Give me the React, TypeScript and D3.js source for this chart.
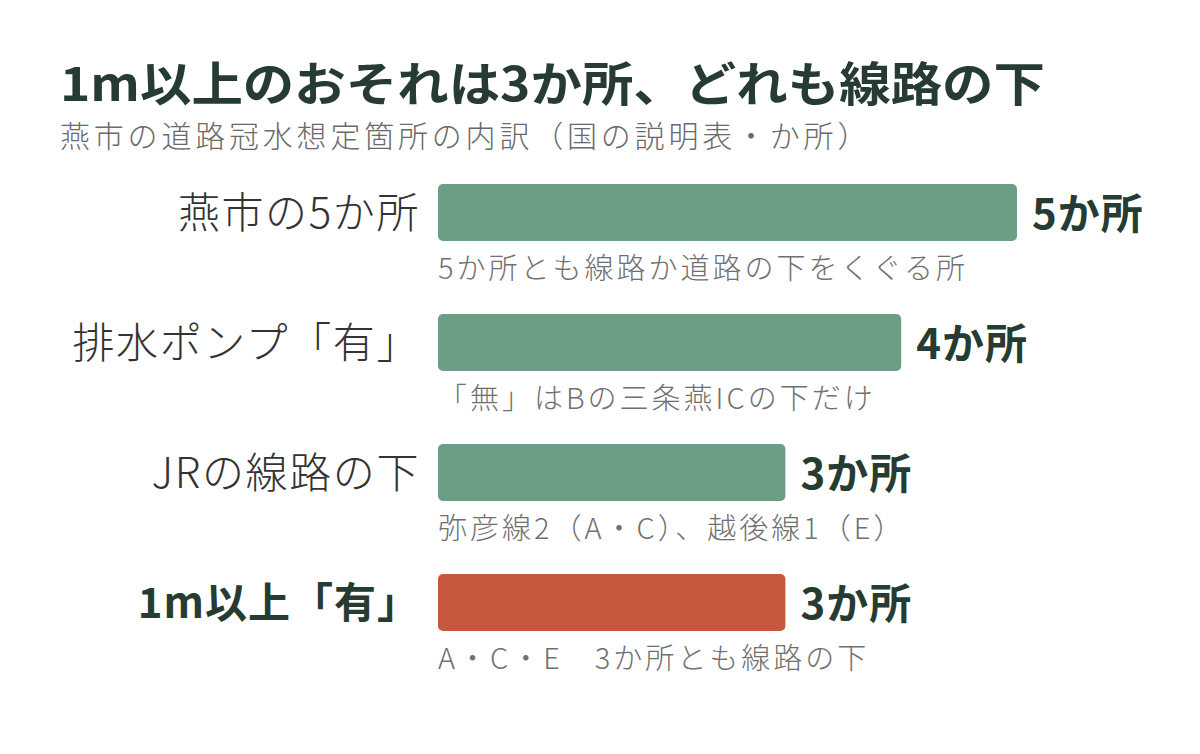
import React from "react";
import * as d3 from "d3";

const categories = ["燕市の5か所", "排水ポンプ「有」", "JRの線路の下", "1m以上「有」"];
const values = [5, 4, 3, 3];
const valueLabels = ["5か所", "4か所", "3か所", "3か所"];
const notes = [
  "5か所とも線路か道路の下をくぐる所",
  "「無」はBの三条燕ICの下だけ",
  "弥彦線2（A・C）、越後線1（E）",
  "A・C・E　3か所とも線路の下",
];
const highlight = [false, false, false, true];

const W = 1200;
const H = 754;
const FONT = "'Noto Sans CJK JP', 'Noto Sans', sans-serif";

export default function App() {
  const x = d3.scaleLinear().domain([0, 5]).range([438, 1017]);
  const y = d3
    .scaleBand<string>()
    .domain(categories)
    .range([184, 184 + 130 * 3 + 57])
    .paddingInner(73 / 130)
    .paddingOuter(0);
  const bw = y.bandwidth();
  const dark = "#263b31";
  return (
    <svg width={W} height={H} style={{ display: "block", position: "absolute", left: 0, top: 0 }} fontFamily={FONT}>
      <rect width={W} height={H} fill="#ffffff" />
      <text x={60} y={101} fontSize={47} fontWeight={700} fill={dark} textLength={985} lengthAdjust="spacingAndGlyphs">
        1m以上のおそれは3か所、どれも線路の下
      </text>
      <text x={60} y={147} fontSize={30} fontWeight={300} fill="#6a6a6a" letterSpacing={3.8}>
        燕市の道路冠水想定箇所の内訳（国の説明表・か所）
      </text>
      {categories.map((c, i) => {
        const yy = y(c) as number;
        return (
          <g key={c}>
            <rect
              x={x(0)}
              y={yy}
              width={x(values[i]) - x(0)}
              height={bw}
              rx={5}
              fill={highlight[i] ? "#c8573f" : "#6c9e86"}
            />
            <text
              x={420}
              y={yy + bw / 2 + 15}
              textAnchor="end"
              fontSize={42}
              letterSpacing={highlight[i] ? 1 : 1.6}
              fontWeight={highlight[i] ? 700 : 300}
              fill={highlight[i] ? dark : "#333333"}
            >
              {c}
            </text>
            <text x={x(values[i]) + 15} y={yy + bw / 2 + 16} fontSize={42} letterSpacing={1} fontWeight={700} fill={dark}>
              {valueLabels[i]}
            </text>
            <text x={x(0)} y={yy + bw + 38} fontSize={29} letterSpacing={3} fontWeight={300} fill="#707070">
              {notes[i]}
            </text>
          </g>
        );
      })}
    </svg>
  );
}
